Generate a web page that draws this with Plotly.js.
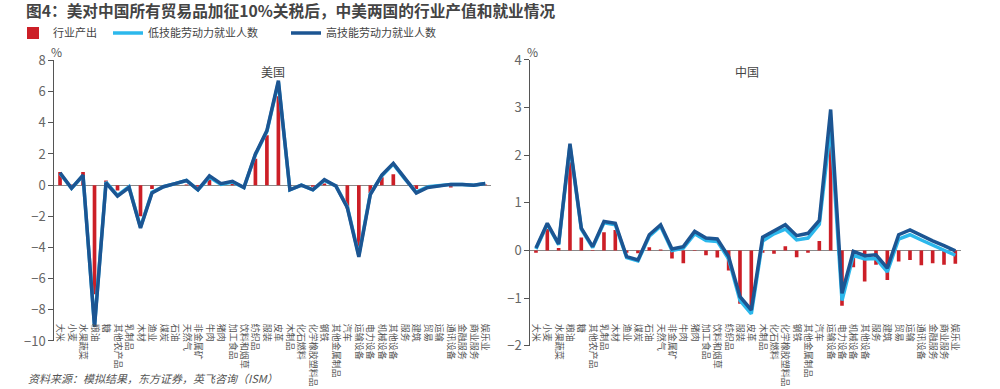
<!DOCTYPE html>
<html>
<head>
<meta charset="utf-8">
<script src="https://cdn.plot.ly/plotly-3.0.1.min.js"></script>
<style>html,body{margin:0;padding:0;background:#fff;}#chart{width:1000px;height:389px;}</style>
</head>
<body>
<div id="chart"></div>
<script>
const categories = ['大米','小麦','水果蔬菜','粮油','糖','其他农产品','乳制品','木材','渔业','煤炭','石油','天然气','非金属矿','牛肉','猪肉','加工食品','饮料和烟草','纺织品','服装','皮革','木制品','化石燃料','化学橡胶塑料品','钢铁','其他金属制品','汽车','运输设备','电力设备','机械设备','其他设备','服务','建筑','贸易','运输','通讯设备','金融服务','商业服务','娱乐业'];

const usOutput = [0.85,0.05,0.85,-7.0,0.3,-0.35,-0.2,-2.0,-0.25,-0.05,0.0,0.05,-0.1,0.45,0.1,0.15,-0.2,1.7,3.2,5.7,-0.05,0.0,-0.1,0.1,0.05,-1.5,-4.0,-0.5,0.5,0.7,0.0,-0.25,-0.05,0.0,-0.15,0.0,0.0,0.05];
const usLow    = [0.75,-0.2,0.6,-9.0,0.2,-0.65,-0.1,-2.7,-0.45,-0.1,0.1,0.3,-0.3,0.5,0.05,0.2,-0.15,1.95,3.45,6.6,-0.3,0.0,-0.3,0.3,-0.05,-1.4,-4.5,-0.55,0.6,1.35,0.4,-0.45,-0.1,0.0,0.05,0.05,0.0,0.1];
const usHigh   = [0.8,-0.2,0.65,-9.1,0.15,-0.7,-0.15,-2.75,-0.5,-0.1,0.1,0.3,-0.3,0.6,0.1,0.25,-0.15,2.0,3.5,6.7,-0.3,0.0,-0.3,0.35,-0.05,-1.45,-4.6,-0.6,0.65,1.4,0.45,-0.5,-0.15,-0.05,0.05,0.05,0.0,0.1];

const cnOutput = [-0.05,0.45,0.05,1.85,0.27,0.01,0.38,0.43,-0.05,-0.06,0.07,0.02,-0.17,-0.27,0.01,-0.1,-0.15,-0.42,-1.12,-1.2,-0.05,-0.07,0.09,-0.14,-0.05,0.2,2.53,-1.16,-0.35,-0.65,-0.3,-0.62,-0.23,-0.2,-0.31,-0.27,-0.3,-0.28];
const cnLow    = [0.03,0.55,0.12,2.2,0.45,0.06,0.58,0.54,-0.15,-0.22,0.3,0.51,0.0,0.05,0.35,0.21,0.19,-0.18,-1.05,-1.33,0.2,0.35,0.45,0.22,0.26,0.55,2.6,-1.05,-0.1,-0.18,-0.17,-0.45,0.24,0.33,0.22,0.12,0.02,-0.1];
const cnHigh   = [0.05,0.57,0.14,2.24,0.47,0.08,0.61,0.57,-0.13,-0.2,0.33,0.54,0.03,0.08,0.4,0.26,0.24,-0.13,-0.97,-1.25,0.28,0.42,0.54,0.31,0.36,0.63,2.96,-0.9,-0.02,-0.11,-0.09,-0.37,0.33,0.43,0.31,0.2,0.1,-0.01];

const seriesNames = ['行业产出','低技能劳动力就业人数','高技能劳动力就业人数'];
const RED = '#cc1f27', LIGHT = '#2cb8ec', DARK = '#1c5592';
const FONT = '"Noto Sans CJK SC", "Noto Sans", sans-serif';

function traces(out, low, high, xa, ya, legend) {
  return [
    {type:'bar', x:categories, y:out, name:seriesNames[0], marker:{color:RED}, width:0.32,
     xaxis:xa, yaxis:ya, showlegend:legend, legend:'legend'},
    {type:'scatter', mode:'lines', x:categories, y:low, name:seriesNames[1],
     line:{color:LIGHT, width:3.5}, xaxis:xa, yaxis:ya, showlegend:legend, legend:'legend2'},
    {type:'scatter', mode:'lines', x:categories, y:high, name:seriesNames[2],
     line:{color:DARK, width:3.5}, xaxis:xa, yaxis:ya, showlegend:legend, legend:'legend3'}
  ];
}

const data = [].concat(traces(usOutput, usLow, usHigh, 'x', 'y', true),
                       traces(cnOutput, cnLow, cnHigh, 'x2', 'y2', false));

const xCommon = {
  type:'category', range:[-0.5, 37.5], showgrid:false, zeroline:false, showline:false,
  tickmode:'linear', dtick:1, tick0:0,
  ticks:'', tickangle:90, tickfont:{family:FONT, size:9, color:'#555'}, anchor:'free', position:0.17,
  automargin:false
};
const yCommon = {
  showgrid:false, zeroline:true, zerolinecolor:'#8a8a8a', zerolinewidth:1,
  showline:true, linecolor:'#555', linewidth:1, ticks:'outside', ticklen:5, tickcolor:'#555',
  tickfont:{family:FONT, size:13, color:'#666'}, automargin:false
};
const legCommon = {orientation:'h', xanchor:'left', y:0.915, yanchor:'middle',
  font:{family:FONT, size:11, color:'#444'}, bgcolor:'rgba(0,0,0,0)', itemwidth:30};

const layout = {
  width:1000, height:389,
  margin:{l:0, r:0, t:0, b:0, autoexpand:false},
  paper_bgcolor:'#fff', plot_bgcolor:'rgba(0,0,0,0)',
  font:{family:FONT, color:'#444'},
  title:{text:'图4：美对中国所有贸易品加征10%关税后，中美两国的行业产值和就业情况',
         x:0.026, xanchor:'left', y:0.97, yanchor:'middle',
         font:{family:FONT, size:15.7, color:'#444', weight:'bold'}},
  showlegend:true,
  legend: Object.assign({}, legCommon, {x:0.013}),
  legend2: Object.assign({}, legCommon, {x:0.108}),
  legend3: Object.assign({}, legCommon, {x:0.286}),
  xaxis: Object.assign({}, xCommon, {domain:[0.0543, 0.491]}),
  yaxis: Object.assign({}, yCommon, {domain:[0.1234, 0.8445], range:[-10, 8], dtick:2, tick0:0}),
  xaxis2: Object.assign({}, xCommon, {domain:[0.5303, 0.961]}),
  yaxis2: Object.assign({}, yCommon, {domain:[0.1113, 0.8458], range:[-2, 4], dtick:1, tick0:0, anchor:'x2'}),
  annotations:[
    {text:'%', xref:'paper', yref:'paper', x:0.056, y:0.868, xanchor:'center', yanchor:'middle', showarrow:false, font:{family:FONT, size:12, color:'#555'}},
    {text:'%', xref:'paper', yref:'paper', x:0.532, y:0.868, xanchor:'center', yanchor:'middle', showarrow:false, font:{family:FONT, size:12, color:'#555'}},
    {text:'美国', xref:'paper', yref:'paper', x:0.273, y:0.815, xanchor:'center', yanchor:'middle', showarrow:false, font:{family:FONT, size:12, color:'#444'}},
    {text:'中国', xref:'paper', yref:'paper', x:0.747, y:0.815, xanchor:'center', yanchor:'middle', showarrow:false, font:{family:FONT, size:12, color:'#444'}},
    {text:'<i>资料来源：模拟结果，东方证券，英飞咨询（ISM）</i>', xref:'paper', yref:'paper', x:0.026, xanchor:'left',
     y:0.028, yanchor:'middle', showarrow:false, font:{family:FONT, size:11, color:'#555'}}
  ]
};

Plotly.newPlot('chart', data, layout, {displayModeBar:false, staticPlot:true});
</script>
</body>
</html>
